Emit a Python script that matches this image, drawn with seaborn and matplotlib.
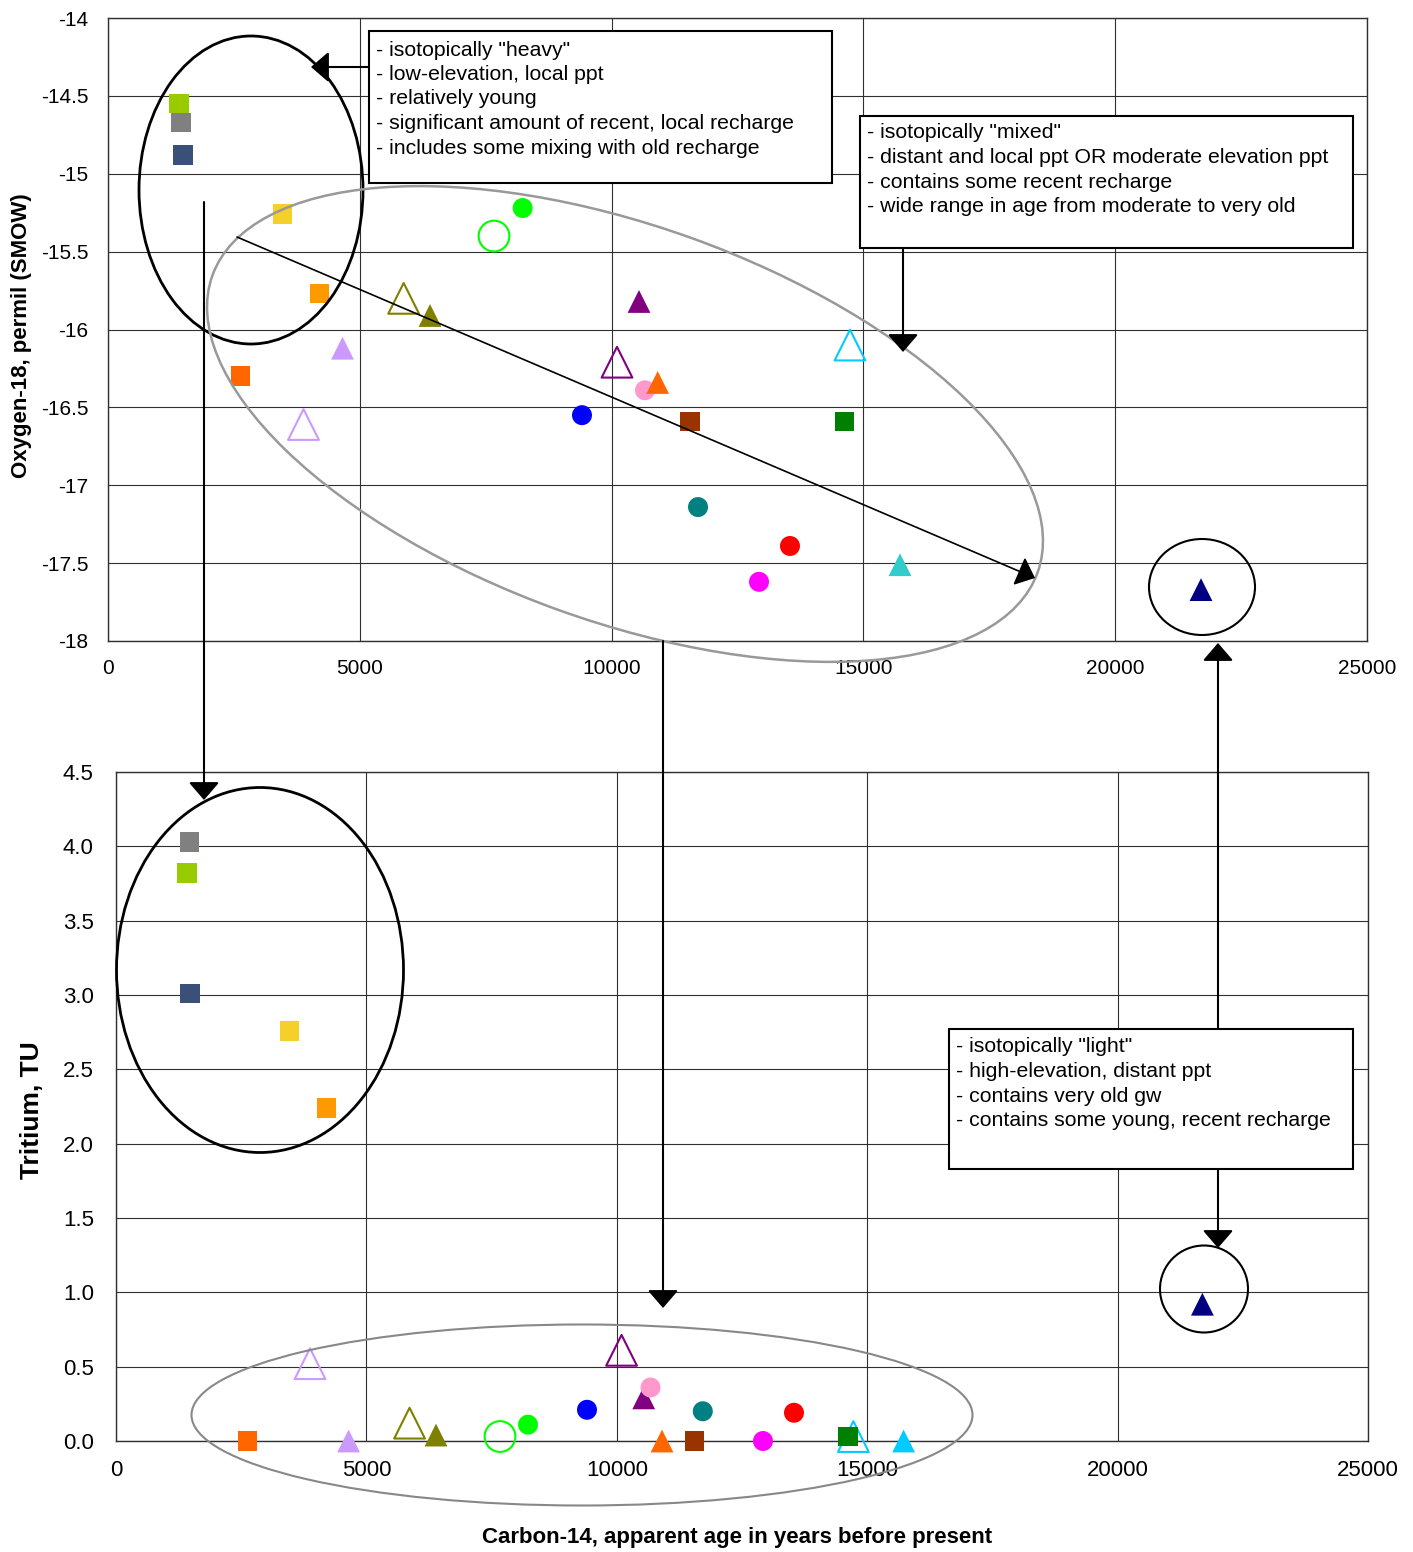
import numpy as np
import pandas as pd
import matplotlib
matplotlib.use("Agg")
import matplotlib.pyplot as plt
import seaborn as sns
from matplotlib.patches import Ellipse, Rectangle, FancyArrowPatch
from matplotlib.ticker import FormatStrFormatter, FixedLocator

# ---------------- data ----------------
sample_ids = list(range(1, 26))
c14_age_top = [1409, 1448, 1488, 3465, 4200, 2631, 4657, 3882, 5871, 6394,
               7665, 8234, 9412, 10544, 10107, 10663, 10915, 11551, 11716, 13542,
               12927, 14734, 14628, 15727, 21704]
oxygen18 = [-14.55, -14.67, -14.88, -15.26, -15.77, -16.30, -16.12, -16.61, -15.80, -15.91,
            -15.40, -15.22, -16.55, -15.82, -16.21, -16.39, -16.34, -16.59, -17.14, -17.39,
            -17.62, -16.10, -16.59, -17.51, -17.67]
c14_age_bottom = [1418, 1468, 1484, 3468, 4203, 2628, 4645, 3874, 5862, 6390,
                  7668, 8227, 9405, 10537, 10095, 10673, 10903, 11552, 11717, 13538,
                  12919, 14724, 14617, 15727, 21693]
tritium = [3.82, 4.03, 3.01, 2.76, 2.24, 0.00, 0.00, 0.52, 0.12, 0.04,
           0.03, 0.11, 0.21, 0.29, 0.61, 0.36, 0.00, 0.00, 0.20, 0.19,
           0.00, 0.03, 0.03, 0.00, 0.92]
marker_shapes = ['s', 's', 's', 's', 's', 's', '^', '^', '^', '^',
                 'o', 'o', 'o', '^', '^', 'o', '^', 's', 'o', 'o',
                 'o', '^', 's', '^', '^']
marker_filled = [True, True, True, True, True, True, True, False, False, True,
                 False, True, True, True, False, True, True, True, True, True,
                 True, False, True, True, True]
colors_top = ['#99CC00', '#808080', '#3A5078', '#F5CF2A', '#FF9900', '#FF6600', '#CC99FF', '#CC99FF', '#808000', '#808000',
              '#00FF00', '#00FF00', '#0000FF', '#800080', '#800080', '#FF99CC', '#FF6600', '#993300', '#008080', '#FF0000',
              '#FF00FF', '#00CCFF', '#008000', '#33CCCC', '#000080']
colors_bottom = ['#99CC00', '#808080', '#3A5078', '#F5CF2A', '#FF9900', '#FF6600', '#CC99FF', '#CC99FF', '#808000', '#808000',
                 '#00FF00', '#00FF00', '#0000FF', '#800080', '#800080', '#FF99CC', '#FF6600', '#993300', '#008080', '#FF0000',
                 '#FF00FF', '#00CCFF', '#008000', '#00CCFF', '#000080']

x_ticks = [0, 5000, 10000, 15000, 20000, 25000]
o18_ticks = [-18, -17.5, -17, -16.5, -16, -15.5, -15, -14.5, -14]
tritium_ticks = [0.0, 0.5, 1.0, 1.5, 2.0, 2.5, 3.0, 3.5, 4.0, 4.5]

o18_label = 'Oxygen-18, permil (SMOW)'
tritium_label = 'Tritium, TU'
x_label = 'Carbon-14, apparent age in years before present'

box_heavy_lines = ['- isotopically "heavy"', '- low-elevation, local ppt', '- relatively young',
                   '- significant amount of recent, local recharge', '- includes some mixing with old recharge']
box_mixed_lines = ['- isotopically "mixed"', '- distant and local ppt OR moderate elevation ppt',
                   '- contains some recent recharge', '- wide range in age from moderate to very old']
box_light_lines = ['- isotopically "light"', '- high-elevation, distant ppt', '- contains very old gw',
                   '- contains some young, recent recharge']

df = pd.DataFrame({'id': sample_ids, 'age_top': c14_age_top, 'o18': oxygen18,
                   'age_bot': c14_age_bottom, 'tritium': tritium, 'marker': marker_shapes,
                   'filled': marker_filled, 'c_top': colors_top, 'c_bot': colors_bottom})

# ---------------- style ----------------
sns.set_style("white")
plt.rcParams['font.family'] = ['Liberation Sans', 'DejaVu Sans']
plt.rcParams['axes.unicode_minus'] = False
plt.rcParams['axes.labelcolor'] = 'black'
plt.rcParams['text.color'] = 'black'

W, H = 1413, 1552
fig = plt.figure(figsize=(W / 100, H / 100), dpi=100)


def px_axes(l, t, r, b):
    return fig.add_axes([l / W, 1 - b / H, (r - l) / W, (b - t) / H])


ax1 = px_axes(108, 18, 1367, 641)
ax2 = px_axes(116, 772, 1368, 1441)

size_map = {('s', True): 200, ('o', True): 207, ('^', True): 270,
            ('^', False): 490, ('o', False): 490}

for _, row in df.iterrows():
    for ax, xcol, ycol, ccol in ((ax1, 'age_top', 'o18', 'c_top'), (ax2, 'age_bot', 'tritium', 'c_bot')):
        c = row[ccol]
        kw = dict(marker=row['marker'], s=size_map[(row['marker'], row['filled'])],
                  clip_on=False, zorder=3, legend=False, ax=ax)
        if row['filled']:
            kw.update(color=c, edgecolor='none', linewidth=0)
        else:
            kw.update(color=c, facecolor='none', edgecolor=c, linewidth=1.5)
        sns.scatterplot(x=[row[xcol]], y=[row[ycol]], **kw)

for ax in (ax1, ax2):
    ax.set_xlim(0, 25000)
    ax.xaxis.set_major_locator(FixedLocator(x_ticks))
    ax.set_xticklabels([str(v) for v in x_ticks])
    ax.grid(True, color='#303030', linewidth=0.8)
    ax.set_axisbelow(True)
    for sp in ax.spines.values():
        sp.set_visible(True)
        sp.set_color('#303030')
        sp.set_linewidth(1.0)
    ax.set_xlabel('')

ax1.set_ylim(-18, -14)
ax1.yaxis.set_major_locator(FixedLocator(o18_ticks))
ax1.yaxis.set_major_formatter(FormatStrFormatter('%g'))
ax1.tick_params(axis='both', direction='out', length=5, width=1, color='#303030',
                labelsize=15, labelcolor='black')
ax1.tick_params(axis='y', pad=9)
ax1.tick_params(axis='x', pad=8)
ax1.set_ylabel(o18_label, fontsize=16, fontweight='bold', color='black')
ax1.yaxis.label.set_va('center')
ax1.yaxis.set_label_coords((22 - 108) / 1259, 0.49)

ax2.set_ylim(0, 4.5)
ax2.yaxis.set_major_locator(FixedLocator(tritium_ticks))
ax2.yaxis.set_major_formatter(FormatStrFormatter('%.1f'))
ax2.tick_params(axis='both', length=5, width=1, color='#303030', labelsize=16, labelcolor='black')
ax2.tick_params(axis='y', direction='out', pad=11)
ax2.tick_params(axis='x', direction='inout', length=10, pad=9)
ax2.set_ylabel(tritium_label, fontsize=19, fontweight='bold', color='black')
ax2.yaxis.label.set_va('center')
ax2.yaxis.set_label_coords((32 - 116) / 1252, 0.495)
ax2.set_xlabel(x_label, fontsize=16, fontweight='bold', color='black')
ax2.xaxis.label.set_va('center')
ax2.xaxis.set_label_coords((737 - 116) / 1252, -(1537 - 1441) / 669)

# ---------------- annotation overlay (pixel coordinates) ----------------
ov = fig.add_axes([0, 0, 1, 1], zorder=10)
ov.set_xlim(0, W)
ov.set_ylim(H, 0)
ov.axis('off')

ellipses = [((251, 190), 224, 308, 0, 'black', 2.0),
            ((625, 424), 877, 395, 19.8, '#999999', 1.8),
            ((1202, 587), 106, 96, 0, 'black', 1.5),
            ((260, 970), 287, 365, 0, 'black', 2.0),
            ((582, 1415), 781, 181, 0, '#888888', 1.5),
            ((1204, 1289), 88, 87, 0, 'black', 1.5)]
for cen, w, h, ang, col, lw in ellipses:
    ov.add_patch(Ellipse(cen, w, h, angle=ang, fill=False, edgecolor=col, linewidth=lw))


def arrow(p0, p1, lw=1.5):
    ov.add_patch(FancyArrowPatch(p0, p1, arrowstyle='-|>,head_length=1.1,head_width=0.95',
                                 mutation_scale=10, color='black', linewidth=lw,
                                 shrinkA=0, shrinkB=0))


arrow((369, 67), (311, 67))
arrow((204, 202), (204, 800))
arrow((237, 237), (1035, 578), lw=1.2)
arrow((903, 248), (903, 352))
arrow((663, 641), (663, 1308))
arrow((1218, 1029), (1218, 643))
arrow((1218, 1169), (1218, 1248))

boxes = [((369, 31, 832, 183), (376, 50), box_heavy_lines),
         ((860, 116, 1353, 248), (867, 133), box_mixed_lines),
         ((949, 1029, 1353, 1169), (956, 1047), box_light_lines)]
for (l, t, r, b), (tx, ty), lines in boxes:
    ov.add_patch(Rectangle((l, t), r - l, b - t, facecolor='white', edgecolor='black', linewidth=1.5))
    for k, line in enumerate(lines):
        ov.text(tx, ty + k * 24.5, line, fontsize=15.3, ha='left', va='center', color='black')

fig.savefig('out.png', dpi=100)
